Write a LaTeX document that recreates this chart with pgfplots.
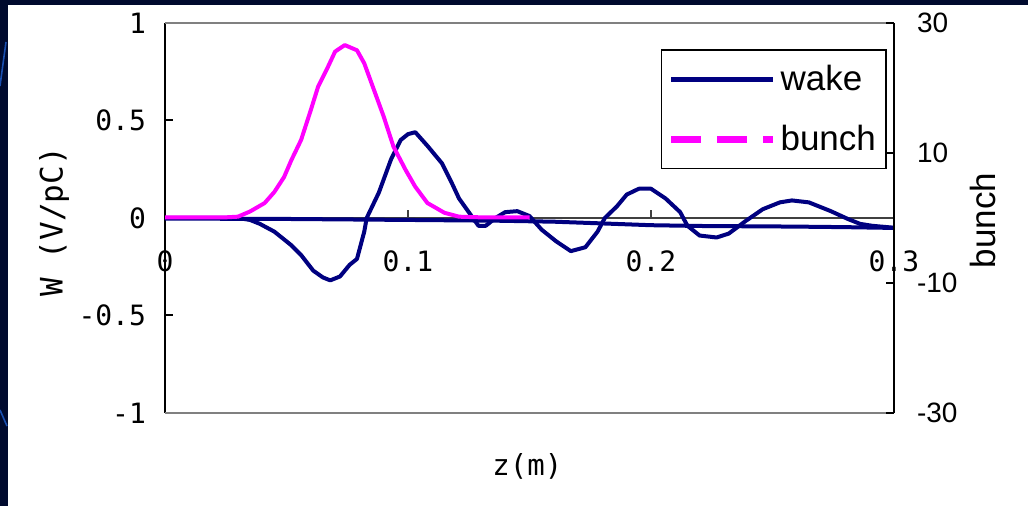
\documentclass[border=0pt]{standalone}
\usepackage{fontspec}
\setmainfont{Liberation Sans}
\newfontfamily\monofont{DejaVu Sans Mono}
\usepackage{pgfplots}
\pgfplotsset{compat=1.18}
\definecolor{navyline}{HTML}{000080}
\definecolor{bunchpink}{HTML}{FF00FF}
\definecolor{slidebg}{HTML}{000A2E}
\definecolor{slideblue}{HTML}{1A4FB0}

\begin{document}
\begin{tikzpicture}
% slide background
\fill[slidebg] (0,0) rectangle (514pt,253pt);
\fill[white] (4pt,0) rectangle (514pt,250.5pt);
\draw[slideblue, line width=0.8pt] (0pt,210pt) -- (3pt,232pt);
\draw[slideblue, line width=0.8pt] (0pt,48pt) -- (3.5pt,40pt);

\begin{axis}[
  at={(82.5pt,46.5pt)}, anchor=south west,
  scale only axis, width=364.5pt, height=195pt,
  xmin=0, xmax=0.3, ymin=-1, ymax=1,
  clip=false,
  axis y line*=left, axis x line*=middle,
  hide obscured x ticks=false,
  y axis line style={black, line width=1pt},
  x axis line style={black!75, line width=0.6pt, -},
  ytick={-1,-0.5,0,0.5,1},
  yticklabels={-1,-0.5,0,0.5,1},
  xtick={0,0.1,0.2,0.3},
  xticklabels={0,0.1,0.2,0.3},
  ytick align=inside, xtick align=inside,
  major tick length=4pt,
  ytick style={black, line width=1pt},
  xtick style={black!75, line width=0.6pt},
  yticklabel style={font=\monofont\fontsize{14}{16}\selectfont, xshift=-6pt},
  xticklabel style={font=\monofont\fontsize{14}{16}\selectfont, yshift=-13pt},
  xlabel={z(m)},
  xlabel style={font=\monofont\fontsize{14.5}{17}\selectfont, at={(axis description cs:0.497,-0.138)}, anchor=center},
  ylabel={W (V/pC)},
  ylabel style={font=\monofont\fontsize{15.5}{18}\selectfont, at={(axis description cs:-0.152,0.49)}, anchor=center, rotate=0},
]
\draw[gray, line width=0.8pt] (rel axis cs:0,1) -- (rel axis cs:1,1);
\draw[gray, line width=0.8pt] (rel axis cs:0,0) -- (rel axis cs:1,0);
% slow drift part of wake
\addplot[navyline, line width=2pt, forget plot] coordinates {
(0,-0.003) (0.05,-0.005) (0.1,-0.010) (0.137,-0.014) (0.16,-0.019)
(0.178,-0.027) (0.2,-0.037) (0.22,-0.041) (0.258,-0.044) (0.28,-0.047) (0.3,-0.051)
};
% oscillating wake
\addplot[navyline, line width=2pt, line join=round] coordinates {
(0,0) (0.030,0) (0.035,-0.01) (0.039,-0.03) (0.045,-0.07) (0.052,-0.14)
(0.056,-0.19) (0.061,-0.27) (0.065,-0.305) (0.068,-0.32) (0.072,-0.30)
(0.076,-0.24) (0.079,-0.21) (0.082,-0.07) (0.083,0) (0.088,0.13)
(0.093,0.30) (0.097,0.40) (0.100,0.43) (0.103,0.44) (0.108,0.37)
(0.114,0.28) (0.118,0.18) (0.121,0.10) (0.125,0.03) (0.129,-0.04)
(0.132,-0.04) (0.136,0.00) (0.140,0.03) (0.145,0.035) (0.150,0.01)
(0.155,-0.06) (0.161,-0.12) (0.167,-0.17) (0.173,-0.15) (0.178,-0.07)
(0.181,0) (0.186,0.06) (0.190,0.12) (0.195,0.15) (0.200,0.15)
(0.206,0.10) (0.212,0.03) (0.215,-0.04) (0.220,-0.09) (0.227,-0.10)
(0.232,-0.08) (0.239,-0.015) (0.246,0.045) (0.253,0.08) (0.258,0.09)
(0.265,0.08) (0.274,0.035) (0.281,-0.005) (0.286,-0.03) (0.291,-0.04)
(0.300,-0.05)
};
\end{axis}

\begin{axis}[
  at={(82.5pt,46.5pt)}, anchor=south west,
  scale only axis, width=364.5pt, height=195pt,
  xmin=0, xmax=0.3, ymin=-30, ymax=30,
  clip=false,
  axis x line=none, axis y line*=right,
  y axis line style={black, line width=1pt},
  ytick={-30,-10,10,30},
  yticklabels={-30,-10,10,30},
  ytick align=inside, major tick length=4pt,
  ytick style={black, line width=1pt},
  yticklabel style={font=\fontsize{14}{16}\selectfont, xshift=8pt},
  ylabel={bunch},
  ylabel style={font=\fontsize{17.5}{20}\selectfont, at={(axis description cs:1.122,0.494)}, anchor=center, rotate=0},
  legend style={at={(0.990,0.933)}, anchor=north east, draw=black, line width=0.8pt,
    font=\fontsize{17.5}{21}\selectfont, inner xsep=3pt, inner ysep=5.5pt,
    nodes={inner sep=2pt}, row sep=12pt, cells={anchor=west}},
  legend image code/.code={\draw[#1] (0pt,0pt) -- (51pt,0pt);},
]
\addlegendimage{navyline, line width=2.5pt}
\addlegendentry{wake}
\addlegendimage{bunchpink, line width=3.5pt, dash pattern=on 15pt off 8pt}
\addlegendentry{bunch}
\addplot[bunchpink, line width=2pt, line join=round, forget plot] coordinates {
(0,0.1) (0.025,0.1) (0.030,0.2) (0.035,1.0) (0.041,2.3) (0.045,4.0)
(0.049,6.3) (0.052,8.9) (0.056,12.0) (0.060,16.6) (0.063,20.2)
(0.067,23.2) (0.070,25.6) (0.074,26.6) (0.079,25.8) (0.082,23.8)
(0.086,19.7) (0.090,15.6) (0.094,11.0) (0.099,7.4) (0.103,4.8)
(0.108,2.3) (0.115,0.8) (0.121,0.2) (0.130,0.1) (0.150,0.1)
};
\end{axis}
\pgfresetboundingbox
\path[use as bounding box] (0,0) rectangle (514pt,253pt);
\end{tikzpicture}
\end{document}
